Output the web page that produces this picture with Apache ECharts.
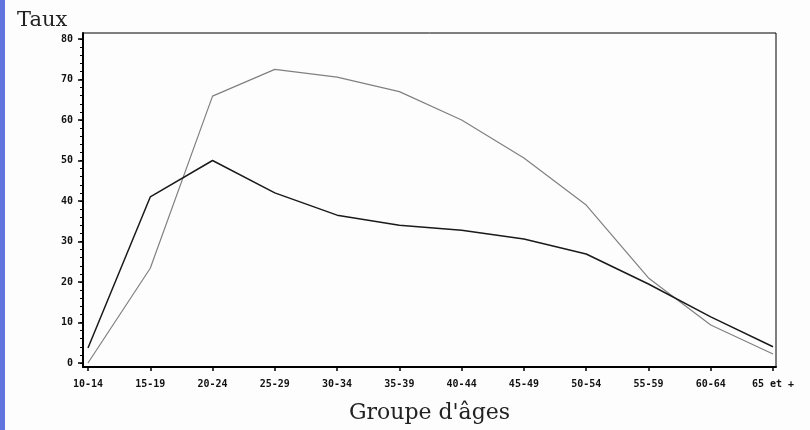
<!DOCTYPE html>
<html>
<head>
<meta charset="utf-8">
<script src="https://cdn.jsdelivr.net/npm/echarts@6/dist/echarts.min.js"></script>
<style>
html,body{margin:0;padding:0;background:#fdfdfd;}
#c{width:810px;height:430px;}
</style>
</head>
<body>
<div id="c"></div>
<script>
const categories = ['10-14','15-19','20-24','25-29','30-34','35-39','40-44','45-49','50-54','55-59','60-64','65 et +'];
const serieNoire = [3.7, 41, 50, 42, 36.5, 34, 32.8, 30.6, 26.9, 19.5, 11.4, 4.0];
const serieGrise = [0, 23.4, 65.9, 72.5, 70.6, 67, 60, 50.6, 39, 21, 9.4, 2.2];
const yMajorTicks = [0,10,20,30,40,50,60,70,80];
const yMinorTicks = [];
for (let v = 0; v <= 80; v += 2) yMinorTicks.push(v);
const xTicks = categories.map((c, i) => i);

const toPairs = arr => arr.map((v, i) => [i, v]);

const chart = echarts.init(document.getElementById('c'), null, {renderer: 'canvas'});
const labelStyle = {fontFamily: 'DejaVu Sans Mono', fontWeight: 'bold', fontSize: 10, color: '#111'};
chart.setOption({
  backgroundColor: '#fdfdfd',
  animation: false,
  title: {
    text: 'Taux', left: 12, top: 5,
    textStyle: {fontFamily: 'DejaVu Serif', fontWeight: 'normal', fontSize: 21, color: '#222'}
  },
  graphic: [{
    type: 'rect', left: 0, top: 0, shape: {width: 5, height: 430},
    style: {fill: '#6275df'}
  }],
  grid: {
    left: 83, right: 34, top: 33, bottom: 63,
    outerBoundsMode: 'none', containLabel: false,
    show: true, borderColor: '#000', borderWidth: 1, backgroundColor: 'transparent'
  },
  xAxis: {
    type: 'value', min: -0.08, max: 11.048,
    name: "Groupe d'âges", nameLocation: 'middle', nameGap: 35,
    nameTextStyle: {fontFamily: 'DejaVu Serif', fontSize: 22, color: '#222'},
    splitLine: {show: false},
    axisLine: {show: true, onZero: false, lineStyle: {color: '#000', width: 2}},
    axisTick: {show: true, customValues: xTicks, length: 4, lineStyle: {color: '#000', width: 1.5}},
    axisLabel: {
      customValues: xTicks, margin: 12, ...labelStyle,
      formatter: v => categories[Math.round(v)]
    }
  },
  yAxis: [{
    type: 'value', min: -0.99, max: 81.48,
    splitLine: {show: false},
    axisLine: {show: true, onZero: false, lineStyle: {color: '#000', width: 2}},
    axisTick: {show: true, customValues: yMajorTicks, length: 5, lineStyle: {color: '#000', width: 1.5}},
    axisLabel: {customValues: yMajorTicks, margin: 10, ...labelStyle}
  }, {
    type: 'value', min: -0.99, max: 81.48, position: 'left',
    splitLine: {show: false},
    axisLine: {show: false, onZero: false},
    axisTick: {show: true, customValues: yMinorTicks, length: 3, lineStyle: {color: '#000', width: 1}},
    axisLabel: {show: false}
  }],
  series: [{
    type: 'line', data: toPairs(serieGrise), showSymbol: false, yAxisIndex: 0,
    lineStyle: {color: '#808080', width: 1.2}
  }, {
    type: 'line', data: toPairs(serieNoire), showSymbol: false, yAxisIndex: 0,
    lineStyle: {color: '#1a1a1a', width: 1.5}
  }]
});
</script>
</body>
</html>
